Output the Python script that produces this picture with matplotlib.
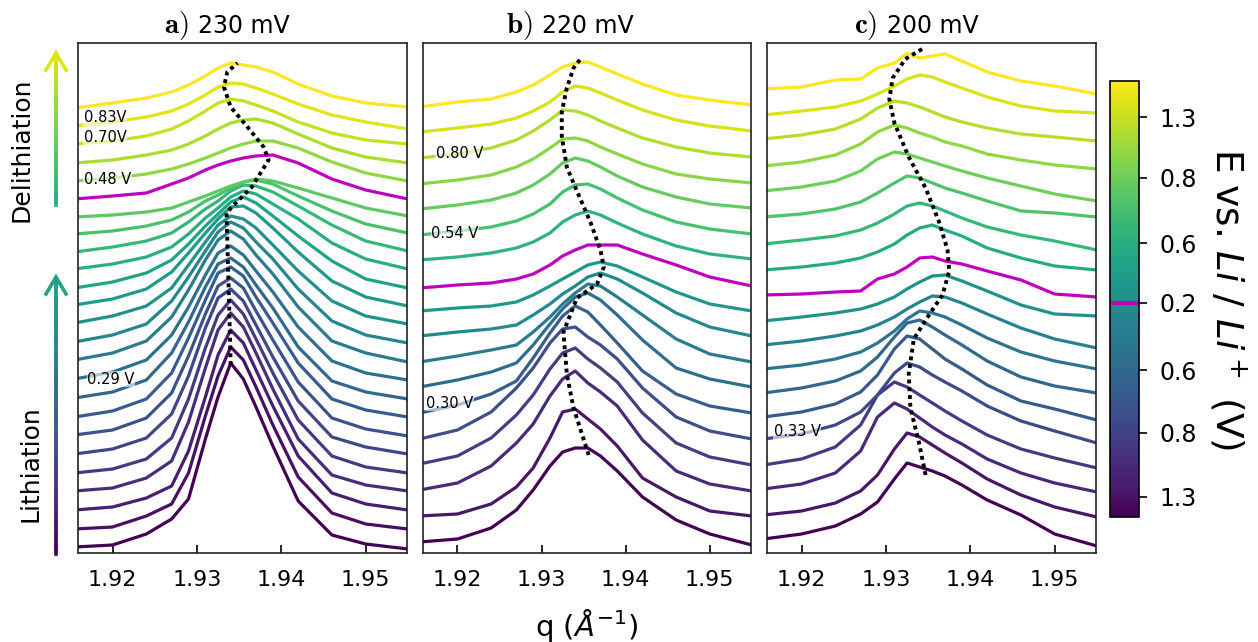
import matplotlib.pyplot as plt
import numpy as np
from matplotlib.collections import LineCollection

# common q grid (1/A) for all spectra
Q = [1.9155, 1.920, 1.924, 1.927, 1.929, 1.931, 1.9325, 1.934, 1.9355, 1.937, 1.939, 1.942, 1.946, 1.950, 1.955]

# ---- panel a) 230 mV : baseline offsets and peak heights above baseline
offsets_a = [6, 24, 43, 61, 79, 98, 116, 134, 152, 171, 189, 207, 226, 244, 262,
             281, 299, 317, 335, 354, 372, 390, 409, 427, 445]
profiles_a = [
    [0, 2, 13, 28, 48, 108, 150, 184, 168, 140, 101, 46, 12, 3, -2],
    [0, 2, 13, 25, 56, 113, 153, 182, 169, 142, 104, 52, 16, 5, 0],
    [0, 3, 12, 24, 59, 113, 155, 180, 167, 140, 104, 54, 17, 6, 0],
    [1, 4, 14, 31, 70, 124, 162, 179, 165, 139, 103, 53, 17, 7, 1],
    [1, 5, 15, 36, 75, 126, 159, 174, 160, 135, 101, 54, 18, 7, 1],
    [1, 6, 17, 41, 79, 127, 157, 166, 154, 130, 98, 54, 18, 8, 1],
    [2, 7, 19, 44, 81, 123, 151, 159, 149, 126, 97, 55, 19, 8, 1],
    [2, 8, 20, 46, 81, 119, 146, 152, 143, 122, 96, 56, 20, 9, 2],
    [3, 9, 21, 48, 79, 114, 137, 143, 134, 116, 93, 54, 20, 9, 2],
    [3, 10, 22, 47, 75, 107, 129, 136, 127, 111, 90, 55, 21, 9, 2],
    [4, 11, 23, 47, 74, 104, 124, 133, 125, 109, 90, 57, 23, 11, 2],
    [4, 11, 22, 45, 69, 95, 114, 124, 118, 104, 87, 57, 25, 11, 3],
    [4, 11, 21, 39, 62, 85, 102, 111, 108, 99, 82, 56, 26, 11, 3],
    [4, 10, 20, 37, 56, 76, 90, 102, 103, 96, 81, 57, 28, 12, 3],
    [3, 9, 18, 31, 47, 65, 77, 89, 94, 88, 75, 55, 30, 12, 3],
    [3, 8, 15, 25, 38, 54, 64, 75, 81, 78, 68, 53, 29, 13, 3],
    [2, 7, 13, 21, 32, 45, 53, 63, 69, 68, 62, 48, 29, 13, 3],
    [2, 5, 10, 16, 24, 35, 41, 48, 54, 56, 52, 40, 25, 12, 3],
    [1, 3, 6, 10, 16, 22, 27, 32, 36, 39, 37, 30, 20, 10, 2],
    [0, 3, 6, 15, 21, 29, 34, 38, 41, 43, 44, 36, 20, 9, 0],
    [0, 3, 7, 12, 17, 23, 28, 33, 37, 40, 40, 33, 19, 8, 0],
    [0, 3, 8, 13, 19, 27, 34, 40, 43, 44, 40, 29, 15, 6, 0],
    [0, 3, 8, 15, 23, 33, 41, 45, 43, 39, 33, 22, 11, 4, 0],
    [0, 4, 9, 15, 22, 31, 39, 43, 42, 38, 32, 22, 11, 4, -3],
    [0, 5, 10, 16, 23, 32, 40, 45, 43, 41, 36, 24, 12, 5, 1],
]
turn_a = 19
peak_q_a = [1.9340, 1.9338, 1.9335, 1.9346, 1.9365, 1.9385, 1.9379, 1.9360, 1.9340, 1.9332, 1.9336, 1.9348]
peak_v_a = [188, 253, 340, 350, 366, 393, 406, 426, 446, 466, 481, 490]
labels_a = [('0.83V', 1.9166, 435), ('0.70V', 1.9166, 415), ('0.48 V', 1.9166, 373), ('0.29 V', 1.9170, 174)]

# ---- panel b) 220 mV
offsets_b = [11, 37, 62, 88, 113, 139, 165, 190, 216, 241, 265, 293, 318, 344, 369, 395, 421, 446]
profiles_b = [
    [0, 3, 14, 32, 52, 76, 90, 94, 94, 86, 71, 45, 22, 8, -3],
    [0, 2, 12, 29, 48, 78, 104, 107, 97, 87, 70, 38, 19, 5, 0],
    [1, 8, 25, 48, 67, 95, 112, 120, 108, 99, 85, 51, 20, 7, 0],
    [1, 9, 27, 50, 70, 96, 112, 117, 106, 97, 83, 52, 22, 8, 0],
    [1, 10, 28, 52, 72, 97, 111, 113, 103, 95, 81, 52, 23, 9, 1],
    [1, 9, 20, 33, 56, 81, 98, 108, 102, 89, 71, 43, 20, 8, 1],
    [1, 8, 16, 25, 43, 64, 79, 91, 95, 88, 73, 48, 20, 9, 1],
    [1, 7, 13, 18, 31, 46, 59, 70, 79, 77, 66, 48, 24, 9, 1],
    [1, 5, 8, 12, 22, 33, 43, 51, 60, 64, 58, 44, 24, 10, 1],
    [1, 4, 6, 10, 17, 26, 33, 40, 47, 50, 46, 35, 20, 8, 1],
    [0, 3, 5, 9, 14, 23, 32, 38, 43, 43, 43, 34, 23, 11, 2],
    [0, 3, 7, 12, 18, 27, 38, 45, 49, 45, 37, 26, 14, 6, 1],
    [0, 4, 8, 14, 21, 31, 43, 50, 51, 46, 37, 25, 13, 6, 1],
    [0, 4, 9, 16, 24, 35, 46, 51, 48, 42, 33, 22, 12, 5, 1],
    [0, 4, 9, 17, 25, 36, 45, 46, 43, 37, 30, 20, 10, 5, 1],
    [0, 4, 10, 18, 27, 38, 48, 47, 43, 37, 30, 20, 11, 5, 1],
    [0, 4, 8, 14, 21, 30, 40, 46, 44, 39, 32, 22, 12, 6, 1],
    [0, 5, 8, 15, 22, 32, 40, 44, 45, 40, 33, 23, 12, 7, 2],
]
turn_b = 10
peak_q_b = [1.9356, 1.9338, 1.9330, 1.9326, 1.9342, 1.9366, 1.9374, 1.9370, 1.9358, 1.9342,
            1.9330, 1.9324, 1.9324, 1.9330, 1.9338, 1.9348]
peak_v_b = [98, 145, 179, 221, 255, 269, 286, 303, 331, 362, 386, 417, 441, 465, 485, 496]
labels_b = [('0.80 V', 1.9174, 399), ('0.54 V', 1.9169, 320), ('0.30 V', 1.9163, 150)]

# ---- panel c) 200 mV
offsets_c = [14, 38, 64, 88, 114, 136, 160, 184, 208, 232, 258, 283, 309, 336, 362, 387, 414, 438, 464]
profiles_c = [
    [0, 5, 13, 25, 37, 60, 76, 72, 68, 63, 54, 39, 24, 5, -7],
    [0, 4, 12, 24, 40, 66, 82, 78, 70, 62, 52, 36, 20, 8, -2],
    [0, 5, 16, 38, 72, 86, 80, 71, 62, 54, 45, 30, 16, 6, -3],
    [0, 6, 18, 40, 70, 83, 78, 70, 62, 54, 44, 30, 16, 7, -3],
    [0, 5, 14, 27, 44, 66, 76, 72, 64, 57, 48, 33, 18, 8, -4],
    [0, 5, 13, 25, 42, 68, 81, 78, 68, 58, 48, 32, 16, 8, -3],
    [0, 5, 12, 22, 36, 56, 70, 73, 66, 58, 48, 32, 16, 7, 0],
    [0, 4, 10, 17, 26, 38, 50, 58, 56, 52, 44, 31, 17, 8, 0],
    [0, 4, 9, 14, 20, 28, 36, 43, 49, 48, 42, 31, 17, 6, -3],
    [0, 4, 8, 12, 17, 24, 32, 39, 45, 46, 40, 30, 16, 7, 5],
    [0, 1, 3, 4, 16, 21, 28, 37, 38, 34, 31, 24, 15, 1, -2],
    [0, 3, 7, 12, 18, 26, 35, 42, 45, 40, 34, 22, 12, 4, 0],
    [0, 4, 8, 14, 21, 30, 38, 41, 38, 33, 26, 17, 9, 3, -6],
    [0, 3, 8, 15, 24, 34, 41, 39, 34, 29, 24, 16, 6, 4, 0],
    [0, 4, 10, 20, 32, 39, 37, 33, 29, 25, 20, 13, 5, -3, -10],
    [0, 4, 11, 22, 34, 41, 38, 33, 29, 24, 20, 12, 6, 1, -3],
    [0, 4, 10, 20, 31, 38, 36, 32, 27, 22, 17, 11, 5, 2, -2],
    [0, 4, 8, 14, 21, 29, 36, 40, 38, 33, 27, 18, 9, 4, 2],
    [0, 2, 9, 10, 21, 26, 36, 31, 33, 35, 28, 17, 8, 3, -5],
]
turn_c = 10
peak_q_c = [1.9347, 1.9339, 1.9329, 1.9327, 1.9333, 1.9351, 1.9367, 1.9375, 1.9373, 1.9363,
            1.9347, 1.9327, 1.9310, 1.9304, 1.9308, 1.9323, 1.9343]
peak_v_c = [78, 111, 145, 179, 214, 238, 258, 282, 303, 331, 365, 396, 430, 454, 475, 494, 504]
labels_c = [('0.33 V', 1.9167, 121)]

panel_tags = ['a)', 'b)', 'c)']
panel_rates = ['230 mV', '220 mV', '200 mV']

# colorbar ticks (fraction along bar) and labels
cbar_pos = [0.046, 0.193, 0.337, 0.491, 0.628, 0.778, 0.917]
cbar_labels = ['1.3', '0.8', '0.6', '0.2', '0.6', '0.8', '1.3']

W, H = 1258, 642
fig = plt.figure(figsize=(W / 100, H / 100), dpi=100)


def px_axes(left, top, width, height, **kw):
    return fig.add_axes([left / W, 1 - (top + height) / H, width / W, height / H], **kw)


def plot_panel(ax, offsets, profiles, turn, peak_q, peak_v, labels, tag, rate):
    n = len(offsets)
    for i, (off, prof) in enumerate(zip(offsets, profiles)):
        col = 'm' if i == turn else plt.cm.viridis(i / (n - 1))
        ax.plot(Q, off + np.array(prof), color=col, lw=2.3)
    ax.plot(peak_q, peak_v, color='k', lw=2.8, ls=(0, (1, 1)))
    for txt, x, y in labels:
        ax.text(x, y, txt, fontsize=10.5, va='center', ha='left',
                bbox=dict(facecolor='white', edgecolor='none', alpha=0.6, pad=0.3))
    ax.set_xlim(1.9159, 1.9549)
    ax.set_ylim(0, 510)
    ax.set_yticks([])
    ax.set_xticks([1.92, 1.93, 1.94, 1.95])
    ax.tick_params(axis='x', direction='in', length=6, width=1.2, labelsize=16, pad=12)
    for s in ax.spines.values():
        s.set_linewidth(1.2)
        s.set_color('#222222')
    # title: bold serif tag + sans value
    ax.text(0.335, 1.0196, r'$\mathbf{%s}$' % tag, transform=ax.transAxes, fontsize=21,
            ha='right', va='baseline', math_fontfamily='cm')
    ax.text(0.364, 1.0196, rate, transform=ax.transAxes, fontsize=17, ha='left', va='baseline')


axes = [px_axes(78, 43, 329, 510), px_axes(423, 43, 328, 510), px_axes(767, 43, 329, 510)]
plot_panel(axes[0], offsets_a, profiles_a, turn_a, peak_q_a, peak_v_a, labels_a, panel_tags[0], panel_rates[0])
plot_panel(axes[1], offsets_b, profiles_b, turn_b, peak_q_b, peak_v_b, labels_b, panel_tags[1], panel_rates[1])
plot_panel(axes[2], offsets_c, profiles_c, turn_c, peak_q_c, peak_v_c, labels_c, panel_tags[2], panel_rates[2])

fig.text(587 / W, 1 - 625 / H, r'q ($\mathit{\AA}^{-1}$)', fontsize=21, ha='center', va='center')

# colorbar
cax = px_axes(1110, 81, 29, 436)
sm = plt.cm.ScalarMappable(norm=plt.Normalize(0, 1), cmap='viridis')
cb = fig.colorbar(sm, cax=cax)
cb.set_ticks(cbar_pos)
cb.set_ticklabels(cbar_labels)
cax.tick_params(labelsize=17, length=6, width=1.2, pad=9)
cax.axhline(0.491, color='m', lw=3)
cb.outline.set_linewidth(1.2)
fig.text(1228 / W, 1 - 299 / H, r'E vs. $Li\ /\ Li^+$ (V)', rotation=270, fontsize=27,
         ha='center', va='center')

# left-hand arrows (pixel coordinates overlay)
ov = fig.add_axes([0, 0, 1, 1], zorder=-1)
ov.set_xlim(0, W)
ov.set_ylim(H, 0)
ov.axis('off')


def grad_arrow(x, y_bottom, y_tip, c0, c1):
    ys = np.linspace(y_bottom, y_tip + 2, 60)
    segs = [[(x, ys[k]), (x, ys[k + 1])] for k in range(len(ys) - 1)]
    lc = LineCollection(segs, colors=plt.cm.viridis(np.linspace(c0, c1, len(segs))),
                        linewidths=2.6, capstyle='projecting')
    ov.add_collection(lc)
    ov.plot([x - 10, x, x + 10], [y_tip + 17, y_tip, y_tip + 17], color=plt.cm.viridis(c1),
            lw=2.6, solid_joinstyle='miter')


grad_arrow(56, 205, 53, 0.62, 0.95)
grad_arrow(56, 554, 277, 0.0, 0.58)
ov.text(22, 150, 'Delithiation', rotation=90, fontsize=18, ha='center', va='center')
ov.text(30, 464, 'Lithiation', rotation=90, fontsize=18, ha='center', va='center')

fig.savefig('out.png', dpi=100)
